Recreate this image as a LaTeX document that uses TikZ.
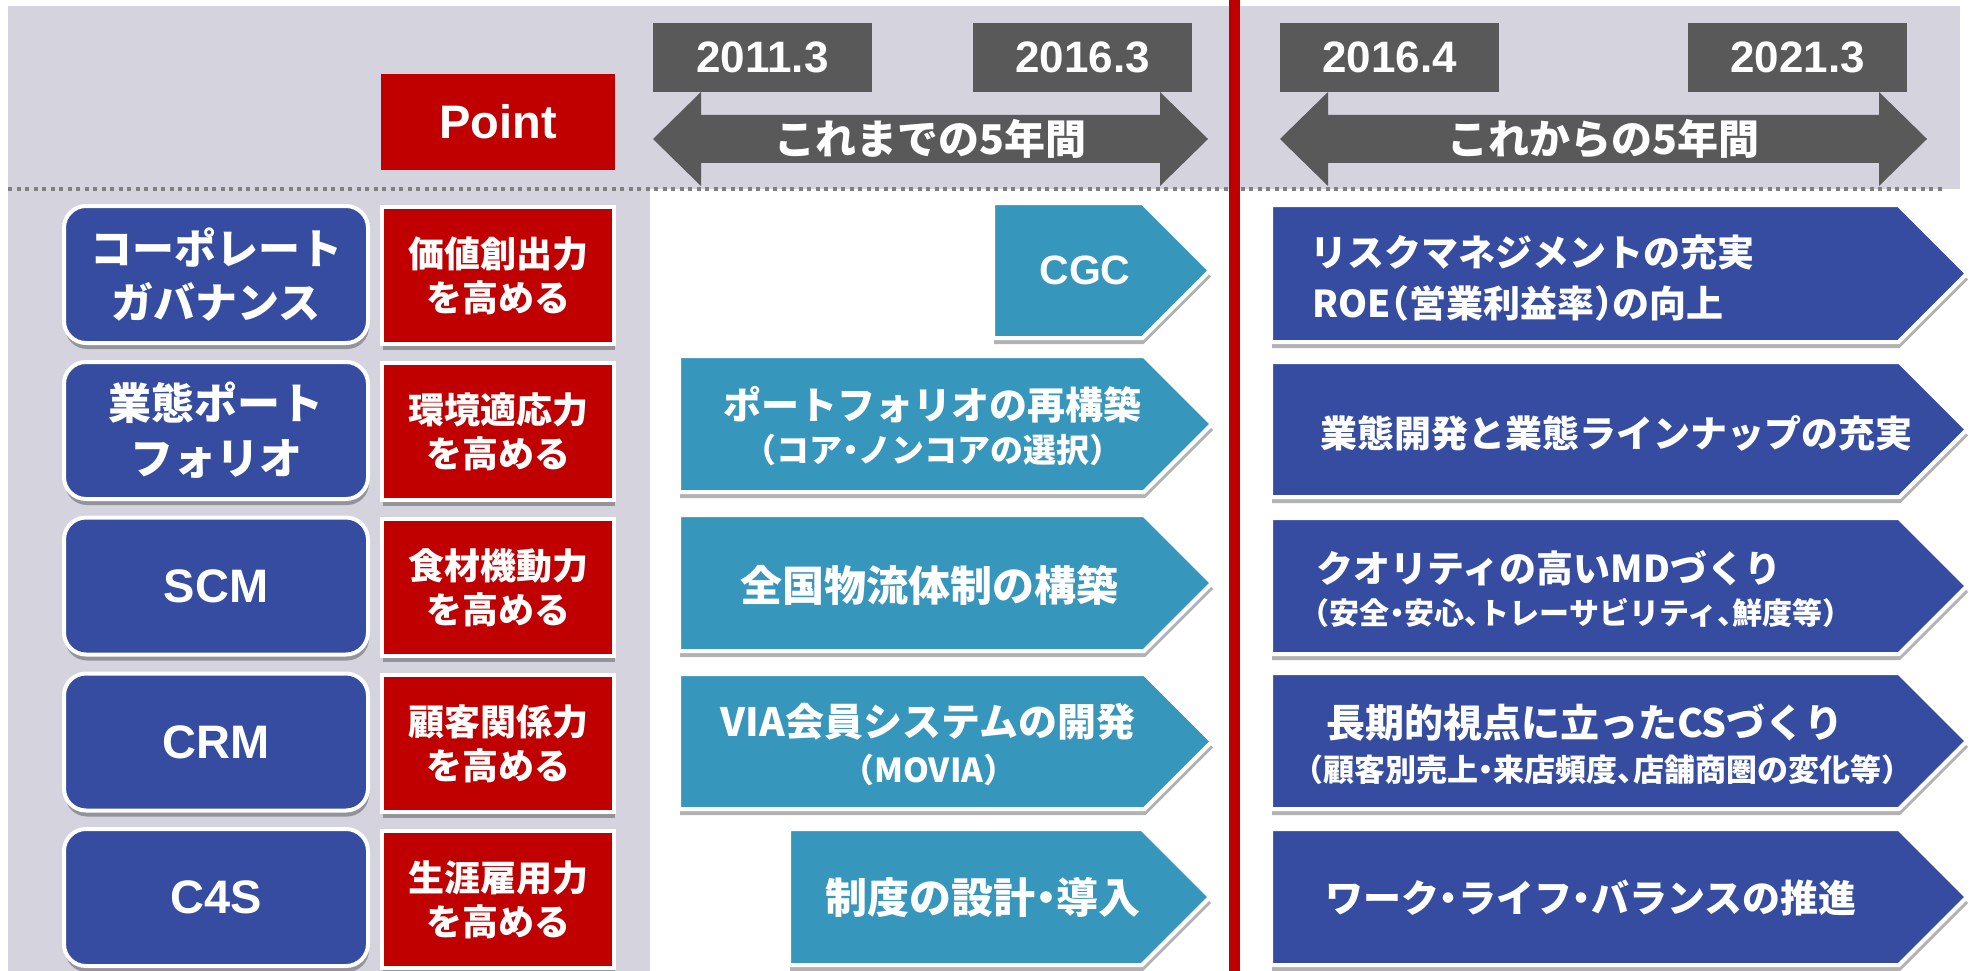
\documentclass[tikz,border=0pt]{standalone}
\usepackage{fontspec}
\setmainfont{Liberation Sans}
\newfontfamily\jp{Noto Sans CJK JP}
\usetikzlibrary{shadows}
\definecolor{bgg}{RGB}{212,211,222}
\definecolor{dg}{RGB}{89,89,89}
\definecolor{rd}{RGB}{192,0,0}
\definecolor{db}{RGB}{53,76,160}
\definecolor{lb}{RGB}{54,150,188}
\definecolor{dotc}{RGB}{128,128,128}
\newcommand\fsz[2]{\fontsize{#1}{#2}\selectfont}
\newcommand\lpar{\makebox[0.5em][r]{（}}
\newcommand\rpar{\makebox[0.5em][l]{）}}
\newcommand\mdot{\makebox[0.5em][c]{・}}
\newcommand\tcomma{\makebox[0.5em][l]{、}}
\newcommand\pentarr[5]{\path[#1] (#2,#4) -- ({#3-(#5-#4)/2},#4) -- (#3,{(#4+#5)/2}) -- ({#3-(#5-#4)/2},#5) -- (#2,#5) -- cycle;}
\tikzset{
 shd/.style={drop shadow={shadow xshift=1pt,shadow yshift=-6pt,opacity=0.3,fill=black}},
 datebox/.style={fill=dg, text=white, minimum width=219pt, minimum height=69pt, inner sep=0pt, font=\bfseries\fsz{44}{50}},
 bluebox/.style={shd, fill=db, draw=white, line width=4pt, rounded corners=22pt, minimum width=304pt, minimum height=137pt, inner sep=0pt, text=white, align=center},
 redbox/.style={shd, fill=rd, draw=white, line width=4pt, minimum width=232pt, minimum height=137pt, inner sep=0pt, text=white, align=center, font=\jp\bfseries\fsz{36}{44}},
 lbarr/.style={shd, fill=lb, draw=white, line width=4pt, line join=miter},
 dbarr/.style={shd, fill=db, draw=white, line width=4pt, line join=miter},
 txt/.style={text=white, inner sep=0pt, align=center},
 jpt/.style={txt, font=\jp\bfseries\fsz{#1}{#1}},
 ltt/.style={txt, font=\bfseries\fsz{#1}{#1}},
}
\begin{document}
\begin{tikzpicture}[x=1pt,y=-1pt]
\useasboundingbox (0,0) rectangle (1974,971);
\fill[white] (0,0) rectangle (1974,971);
% background panels
\fill[bgg] (8,6) rectangle (1960,189);
\fill[bgg] (8,189) rectangle (650,971);
\draw[dotc, line width=4pt, dash pattern=on 4pt off 4.5pt] (8,189) -- (1943,189);

% Point
\node[fill=rd, minimum width=234pt, minimum height=96pt, inner sep=0pt, text=white, font=\bfseries\fsz{47}{50}] (point) at (498,122) {Point};

% timeline arrows
\fill[dg] (653,139) -- (701,92) -- (701,115) -- (1160,115) -- (1160,92) -- (1208,139) -- (1160,186) -- (1160,163) -- (701,163) -- (701,186) -- cycle;
\fill[dg] (1280,139) -- (1328,92) -- (1328,115) -- (1879,115) -- (1879,92) -- (1927,139) -- (1879,186) -- (1879,163) -- (1328,163) -- (1328,186) -- cycle;
\node[datebox] (d1) at (762.5,57.5) {2011.3};
\node[datebox] (d2) at (1082.5,57.5) {2016.3};
\node[datebox] (d3) at (1389.5,57.5) {2016.4};
\node[datebox] (d4) at (1797.5,57.5) {2021.3};
\node[jpt=41] (p1) at (930.5,139) {これまでの5年間};
\node[jpt=41] (p2) at (1603.5,139) {これからの5年間};

% left column
\node[bluebox, font=\jp\bfseries\fsz{42}{54}] (b1) at (216,274.5) {コーポレート\\ガバナンス};
\node[bluebox, font=\jp\bfseries\fsz{43}{55}] (b2) at (216,430.5) {業態ポート\\フォリオ};
\node[bluebox, font=\bfseries\fsz{47}{50}] (b3) at (216,586) {SCM};
\node[bluebox, font=\bfseries\fsz{47}{50}] (b4) at (216,742) {CRM};
\node[bluebox, font=\bfseries\fsz{47}{50}] (b5) at (216,897.5) {C4S};

\node[redbox] (r1) at (498,275.5) {価値創出力\\を高める};
\node[redbox] (r2) at (498,431.5) {環境適応力\\を高める};
\node[redbox] (r3) at (498,587.5) {食材機動力\\を高める};
\node[redbox] (r4) at (498,743.5) {顧客関係力\\を高める};
\node[redbox] (r5) at (498,899.5) {生涯雇用力\\を高める};

% middle arrows
\pentarr{lbarr}{993}{1210}{203}{338}
\pentarr{lbarr}{679}{1212}{356}{492}
\pentarr{lbarr}{679}{1212}{515}{651}
\pentarr{lbarr}{679}{1212}{674}{809}
\pentarr{lbarr}{789}{1210}{829}{965}
\node[ltt=41] (m1) at (1085,270) {CGC};
\node[jpt=38] (m2a) at (932,405) {ポートフォリオの再構築};
\node[jpt=33] (m2b) at (933,450) {\lpar コア\mdot ノンコアの選択\rpar};
\node[jpt=42] (m3) at (929,585) {全国物流体制の構築};
\node[jpt=39] (m4a) at (928,722) {VIA会員システムの開発};
\node[jpt=33] (m4b) at (929,770) {\lpar MOVIA\rpar};
\node[jpt=42] (m5) at (983,898) {制度の設計\mdot 導入};

% right arrows
\pentarr{dbarr}{1271}{1967}{205}{342}
\pentarr{dbarr}{1271}{1967}{362}{497}
\pentarr{dbarr}{1271}{1967}{518}{654}
\pentarr{dbarr}{1271}{1967}{673}{809}
\pentarr{dbarr}{1271}{1967}{829}{965}
\node[jpt=37, anchor=west] (f1a) at (1310,253) {リスクマネジメントの充実};
\node[jpt=37, anchor=west] (f1b) at (1312,303) {ROE\lpar 営業利益率\rpar の向上};
\node[jpt=37] (f2) at (1616,433) {業態開発と業態ラインナップの充実};
\node[jpt=37] (f3a) at (1549,568) {クオリティの高いMDづくり};
\node[jpt=30] (f3b) at (1576,613) {\lpar 安全\mdot 安心\tcomma トレーサビリティ\tcomma 鮮度等\rpar};
\node[jpt=39] (f4a) at (1585,723) {長期的視点に立ったCSづくり};
\node[jpt=31] (f4b) at (1602,770) {\lpar 顧客別売上\mdot 来店頻度\tcomma 店舗商圏の変化等\rpar};
\node[jpt=38] (f5) at (1591,898) {ワーク\mdot ライフ\mdot バランスの推進};

% red divider
\fill[rd] (1229,0) rectangle (1240,971);
\end{tikzpicture}
\end{document}
